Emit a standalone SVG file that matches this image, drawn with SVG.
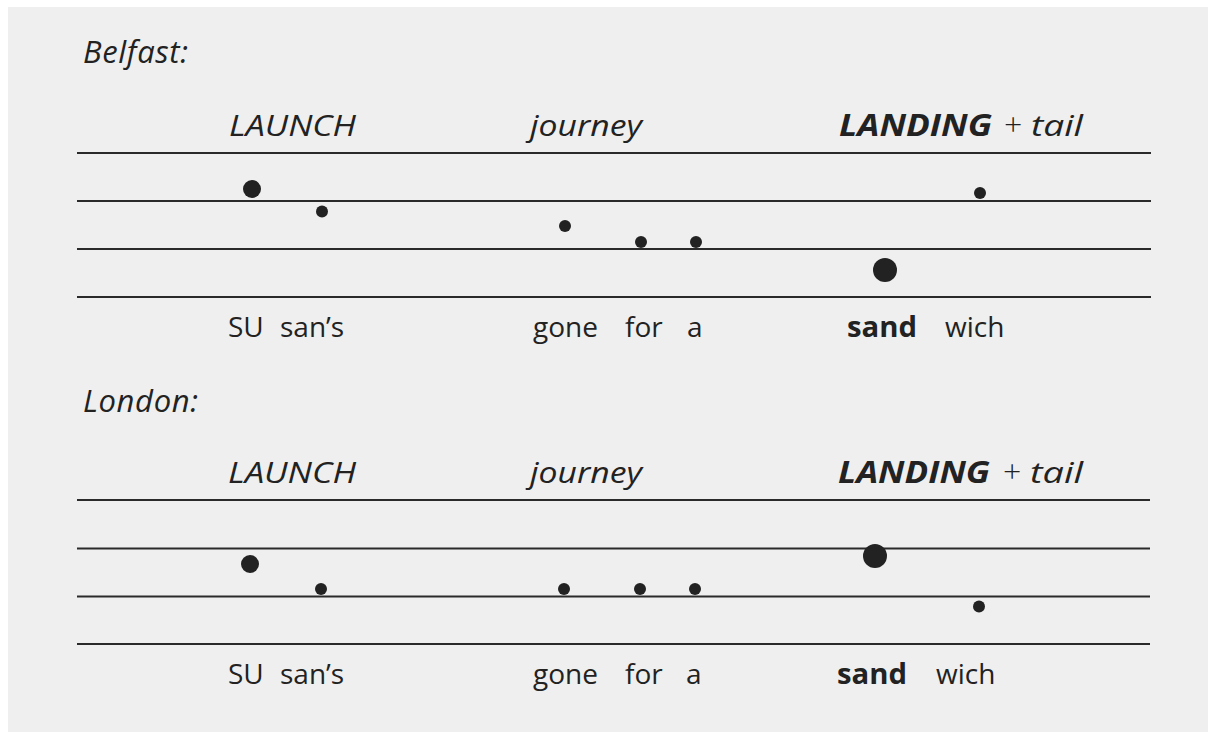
<svg xmlns="http://www.w3.org/2000/svg" width="1214" height="737" viewBox="0 0 1214 737">
<style>
.t{font-family:"Open Sans","Noto Sans","Liberation Sans",sans-serif;fill:#222;font-size:28px}
.i{font-style:italic}
.b{font-weight:bold}
.h{font-size:31px}
.k{font-size:30px}
.pl{font-size:32px;font-weight:300}
.ln{stroke:#2a2a2a;stroke-width:2;fill:none}
.d{fill:#222}
</style>
<rect x="0" y="0" width="1214" height="737" fill="#ffffff"/>
<rect x="8" y="7" width="1200" height="725" fill="#efefef"/>
<g id="belfast">
<text class="t i h" x="83" y="63" textLength="105" lengthAdjust="spacing">Belfast:</text>
<g id="belfast-heads">
<text class="t i k" x="229" y="136" textLength="127" lengthAdjust="spacingAndGlyphs">LAUNCH</text>
<text class="t i k" x="530" y="136" textLength="112" lengthAdjust="spacingAndGlyphs">journey</text>
<text class="t i b k" x="839" y="136" textLength="153" lengthAdjust="spacingAndGlyphs">LANDING</text>
<text class="t pl" x="1004" y="136">+</text>
<text class="t i k" x="1031" y="136" textLength="52" lengthAdjust="spacingAndGlyphs">tail</text>
</g>
<g id="belfast-staff">
<line class="ln" x1="77" y1="153" x2="1151" y2="153"/>
<line class="ln" x1="77" y1="201" x2="1151" y2="201"/>
<line class="ln" x1="77" y1="249" x2="1151" y2="249"/>
<line class="ln" x1="77" y1="297" x2="1151" y2="297"/>
</g>
<g id="belfast-dots">
<circle class="d" cx="252" cy="189" r="9"/>
<circle class="d" cx="322" cy="211.5" r="6"/>
<circle class="d" cx="565" cy="226" r="6"/>
<circle class="d" cx="641" cy="242" r="6"/>
<circle class="d" cx="696" cy="242" r="6"/>
<circle class="d" cx="885" cy="270" r="12"/>
<circle class="d" cx="980" cy="193" r="6"/>
</g>
<g id="belfast-words">
<text class="t" x="228" y="337">SU</text>
<text class="t" x="280" y="337">san’s</text>
<text class="t" x="533" y="337">gone</text>
<text class="t" x="625" y="337">for</text>
<text class="t" x="687" y="337">a</text>
<text class="t b" x="847" y="337" textLength="70" lengthAdjust="spacingAndGlyphs">sand</text>
<text class="t" x="945" y="337">wich</text>
</g>
</g>
<g id="london">
<text class="t i h" x="83" y="412" textLength="115" lengthAdjust="spacing">London:</text>
<g id="london-heads">
<text class="t i k" x="228" y="483" textLength="128" lengthAdjust="spacingAndGlyphs">LAUNCH</text>
<text class="t i k" x="530" y="483" textLength="112" lengthAdjust="spacingAndGlyphs">journey</text>
<text class="t i b k" x="838" y="483" textLength="152" lengthAdjust="spacingAndGlyphs">LANDING</text>
<text class="t pl" x="1003" y="483">+</text>
<text class="t i k" x="1030" y="483" textLength="53" lengthAdjust="spacingAndGlyphs">tail</text>
</g>
<g id="london-staff">
<line class="ln" x1="77" y1="500" x2="1150" y2="500"/>
<line class="ln" x1="77" y1="548.5" x2="1150" y2="548.5"/>
<line class="ln" x1="77" y1="596.5" x2="1150" y2="596.5"/>
<line class="ln" x1="77" y1="644" x2="1150" y2="644"/>
</g>
<g id="london-dots">
<circle class="d" cx="250" cy="564" r="9"/>
<circle class="d" cx="321" cy="589" r="6"/>
<circle class="d" cx="564" cy="589" r="6"/>
<circle class="d" cx="640" cy="589" r="6"/>
<circle class="d" cx="695" cy="589" r="6"/>
<circle class="d" cx="875" cy="556" r="12"/>
<circle class="d" cx="979" cy="606.5" r="6"/>
</g>
<g id="london-words">
<text class="t" x="228" y="684">SU</text>
<text class="t" x="280" y="684">san’s</text>
<text class="t" x="533" y="684">gone</text>
<text class="t" x="625" y="684">for</text>
<text class="t" x="686" y="684">a</text>
<text class="t b" x="837" y="684" textLength="70" lengthAdjust="spacingAndGlyphs">sand</text>
<text class="t" x="936" y="684">wich</text>
</g>
</g>
</svg>
